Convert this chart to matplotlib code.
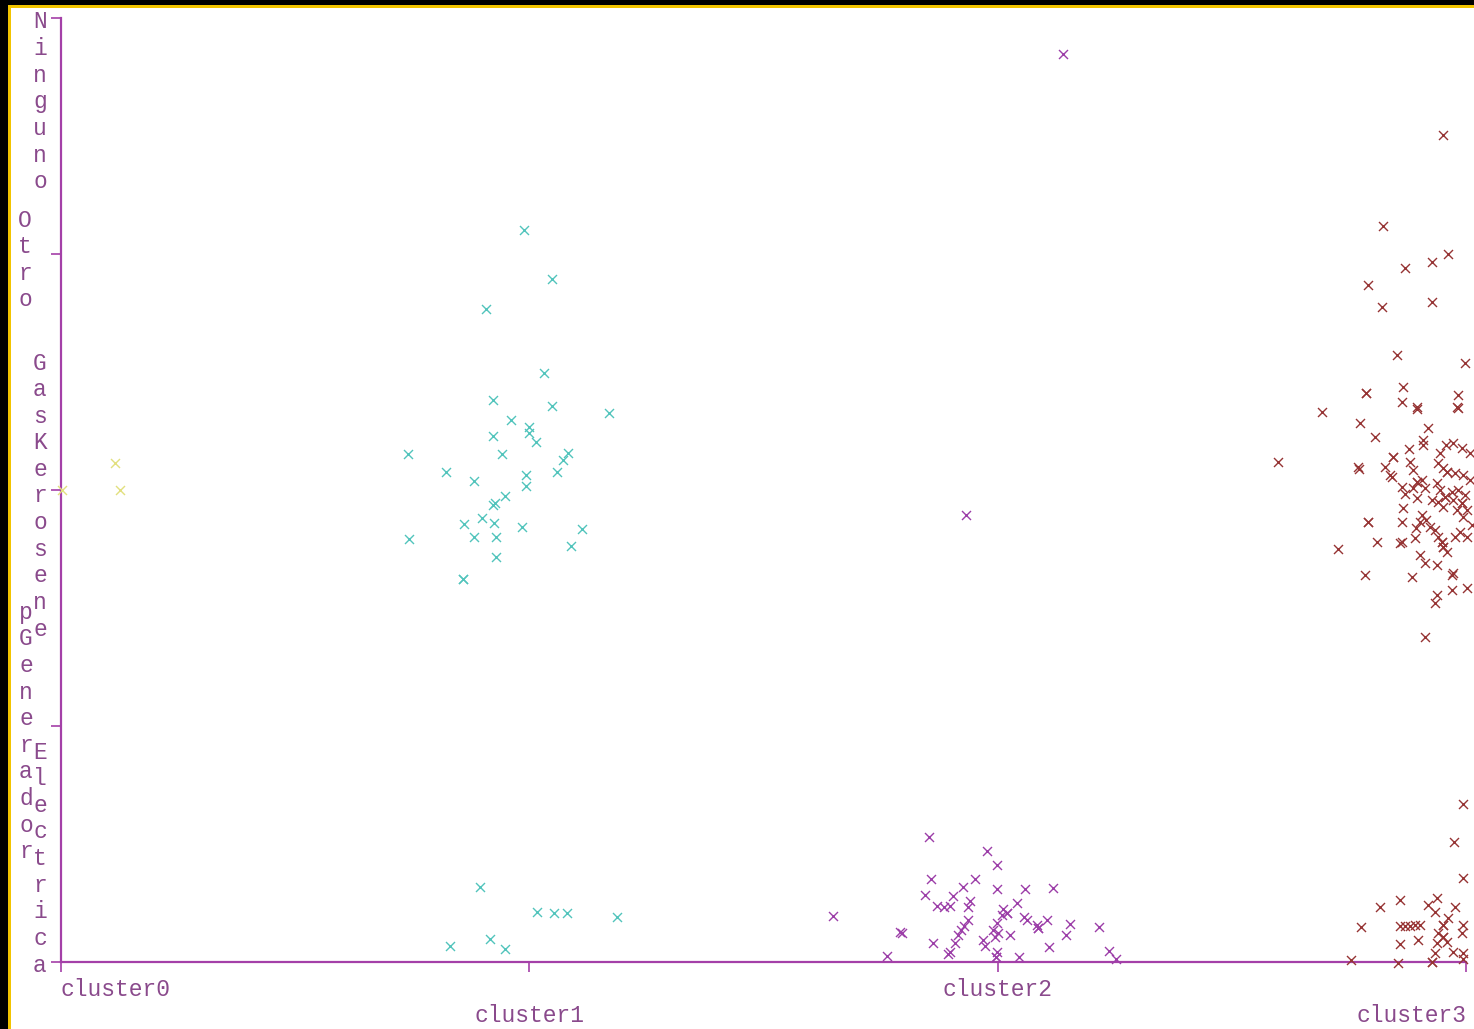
import matplotlib.pyplot as plt
from matplotlib.patches import Rectangle

# cluster assignment (x) vs. type of energy (y), jittered like the Weka view
clusters = ["cluster0", "cluster1", "cluster2", "cluster3"]
energia = ["Electrica", "pGenerador", "GasKerosene", "Otro", "Ninguno"]

c0_x = [0.115, 0.126, 0.002]
c0_y = [2.114, 2.000, 2.000]

c1_x = [0.989, 1.048, 0.907, 1.031, 0.922, 1.048, 1.170, 0.961, 0.922, 0.999,
        0.999, 1.014, 0.741, 0.942, 1.083, 1.072, 1.059, 0.822, 0.882, 0.993,
        0.993, 0.948, 0.922, 0.927, 0.899, 0.861, 0.925, 0.984, 1.112, 0.743,
        0.882, 0.929, 1.089, 0.929, 0.858, 0.858,
        0.895, 1.016, 1.053, 1.080, 1.187, 0.831, 0.916, 0.948]
c1_y = [3.102, 2.894, 2.767, 2.496, 2.381, 2.356, 2.326, 2.297, 2.229, 2.267,
        2.242, 2.203, 2.153, 2.153, 2.157, 2.127, 2.076, 2.076, 2.038, 2.064,
        2.017, 1.975, 1.936, 1.945, 1.881, 1.856, 1.860, 1.843, 1.835, 1.792,
        1.801, 1.801, 1.763, 1.716, 1.623, 1.623,
        0.318, 0.212, 0.208, 0.208, 0.191, 0.068, 0.097, 0.055]

c2_x = [2.140, 1.932, 1.648, 1.853, 1.977, 1.999, 1.858, 1.952, 1.926, 1.999,
        2.058, 2.118, 1.845, 1.905, 1.870, 1.885, 1.898, 1.941, 1.937, 2.041,
        2.011, 2.009, 2.020, 2.020, 2.056, 2.063, 2.105, 2.084, 2.086, 2.086,
        2.154, 2.146, 2.216, 1.791, 1.796, 1.937, 1.928, 1.922, 1.915, 1.999,
        1.990, 2.001, 1.994, 2.026, 1.862, 1.969, 1.973, 1.909, 1.898, 2.110,
        1.999, 1.996, 1.996, 1.894, 2.046, 1.764, 2.238, 2.253]
c2_y = [3.847, 1.894, 0.195, 0.530, 0.470, 0.411, 0.352, 0.352, 0.318, 0.309,
        0.309, 0.314, 0.284, 0.280, 0.237, 0.233, 0.237, 0.258, 0.233, 0.250,
        0.225, 0.199, 0.208, 0.208, 0.191, 0.178, 0.178, 0.157, 0.144, 0.144,
        0.161, 0.114, 0.148, 0.127, 0.123, 0.178, 0.153, 0.136, 0.114, 0.165,
        0.136, 0.123, 0.106, 0.114, 0.081, 0.093, 0.068, 0.081, 0.042, 0.064,
        0.042, 0.021, 0.021, 0.034, 0.021, 0.025, 0.047, 0.013]

c3_x = [2.951, 2.823, 2.870, 2.927, 2.962, 2.791, 2.821, 2.927, 2.853, 2.998,
        2.786, 2.786, 2.865, 2.863, 2.895, 2.983, 2.983, 2.693, 2.774, 2.806,
        2.919, 2.908, 2.599, 2.769, 2.844, 2.844, 2.827, 2.842, 2.791, 2.791,
        2.810, 2.727, 2.863, 2.863, 2.784, 2.885, 2.970, 2.970, 3.002, 2.938,
        2.912, 2.895, 2.981, 2.908, 2.878, 2.957, 2.972, 2.992, 3.009, 2.772,
        2.880, 2.887, 2.945, 2.940, 2.951, 2.959, 2.959, 2.977, 2.994, 3.009,
        2.838, 2.895, 2.895, 2.906, 2.887, 2.912, 2.863, 2.870, 2.938, 2.945,
        2.955, 2.955, 2.970, 2.983, 2.998, 2.992, 2.992, 2.972, 2.951, 2.940,
        2.895, 2.865, 2.927, 2.906, 2.902, 2.893, 2.915, 2.923, 2.934, 2.940,
        2.949, 2.949, 2.951, 2.951, 2.959, 2.981, 2.994, 3.002, 3.013, 2.987,
        2.977, 3.002, 2.859, 2.891, 2.902, 2.912, 2.938, 2.972, 2.934,
        2.994, 2.974, 2.994, 2.816, 2.859, 2.776, 2.754, 2.855, 2.859, 2.927,
        2.927, 2.994, 2.919, 2.938, 2.934, 2.977, 2.859, 2.870, 2.880, 2.891,
        2.902, 2.898, 2.951, 2.951, 2.962, 2.940, 2.951, 2.951, 2.938, 2.959,
        2.994, 2.992, 2.972, 2.994, 2.934]
c3_y = [3.504, 3.119, 2.941, 2.966, 3.000, 2.869, 2.775, 2.797, 2.572, 2.538,
        2.411, 2.411, 2.436, 2.373, 2.343, 2.403, 2.347, 2.331, 2.284, 2.225,
        2.263, 2.212, 2.119, 2.097, 2.140, 2.140, 2.097, 2.055, 1.864, 1.864,
        1.780, 1.750, 1.864, 1.780, 1.640, 1.631, 1.640, 1.576, 1.585, 1.555,
        1.377, 2.352, 2.352, 2.191, 2.174, 2.191, 2.199, 2.178, 2.157, 2.089,
        2.119, 2.085, 2.157, 2.114, 2.093, 2.076, 2.076, 2.072, 2.064, 2.042,
        2.064, 2.034, 2.034, 2.042, 2.008, 2.008, 2.013, 1.983, 2.030, 2.000,
        1.970, 1.970, 1.992, 2.000, 1.979, 1.945, 1.945, 1.958, 1.928, 1.949,
        1.966, 1.924, 1.958, 1.894, 1.864, 1.839, 1.873, 1.843, 1.831, 1.801,
        1.780, 1.780, 1.758, 1.758, 1.737, 1.915, 1.886, 1.915, 1.852, 1.822,
        1.801, 1.801, 1.775, 1.797, 1.725, 1.691, 1.682, 1.648, 1.521,
        0.669, 0.508, 0.356, 0.233, 0.263, 0.148, 0.008, -0.004, 0.076, 0.000,
        0.000, 0.013, 0.242, 0.271, 0.212, 0.233, 0.153, 0.153, 0.153, 0.157,
        0.157, 0.093, 0.157, 0.157, 0.186, 0.123, 0.106, 0.106, 0.081, 0.085,
        0.157, 0.123, 0.042, 0.038, 0.038]

colores = ["#e2e07e", "#52c4bc", "#9c3ea8", "#963434"]
axis_col = "#a440a8"
text_col = "#8a4a8c"
mono = "Liberation Mono"

W, H = 1474, 1029
fig = plt.figure(figsize=(W / 100, H / 100), dpi=100, facecolor="black")

# yellow frame line and white canvas behind the axes
fig.patches.append(Rectangle((8 / W, 0), 1, 1 - 5 / H, transform=fig.transFigure,
                             facecolor="#f2c400", edgecolor="none", zorder=-10))
fig.patches.append(Rectangle((11 / W, 0), 1, 1 - 8 / H, transform=fig.transFigure,
                             facecolor="white", edgecolor="none", zorder=-9))

ax = fig.add_axes([61 / W, 1 - 962 / H, (1466 - 61) / W, (962 - 18) / H])
ax.set_facecolor("none")

for xs, ys, col in zip([c0_x, c1_x, c2_x, c3_x], [c0_y, c1_y, c2_y, c3_y], colores):
    ax.scatter(xs, ys, marker="x", s=42, linewidths=1.0, color=col,
               clip_on=False, zorder=3)

ax.set_xlim(0, 3)
ax.set_ylim(0, 4)
for side in ["top", "right"]:
    ax.spines[side].set_visible(False)
for side in ["left", "bottom"]:
    ax.spines[side].set_color(axis_col)
    ax.spines[side].set_linewidth(1.6)

ax.set_xticks(range(len(clusters)))
ax.set_yticks(range(len(energia)))
ax.set_xticklabels([])
ax.set_yticklabels([])
ax.tick_params(axis="both", color=axis_col, length=7, width=1.2, direction="out")

# x labels on two alternating rows
for i, lab in enumerate(clusters):
    ha = "left" if i == 0 else ("right" if i == len(clusters) - 1 else "center")
    dy = -28 if i % 2 == 0 else -54
    ax.annotate(lab, xy=(i, 0), xycoords="data", xytext=(0, dy),
                textcoords="offset pixels", ha=ha, va="center",
                fontsize=16.5, family=mono, color=text_col, annotation_clip=False)

# vertical y labels, one letter per row, alternating columns
step = 26.6
cols_x = [-21, -35, -21, -36, -21]
for i, lab in enumerate(energia):
    n = len(lab)
    if i == 0:
        first = (n - 1) * step - 3
    elif i == len(energia) - 1:
        first = -4
    else:
        first = (n - 1) / 2 * step - 6
    for k, ch in enumerate(lab):
        ax.annotate(ch, xy=(0, i), xycoords="data",
                    xytext=(cols_x[i], first - k * step), textcoords="offset pixels",
                    ha="center", va="center", fontsize=16.5, family=mono,
                    color=text_col, annotation_clip=False)

fig.savefig("out.png", dpi=100, facecolor=fig.get_facecolor())
